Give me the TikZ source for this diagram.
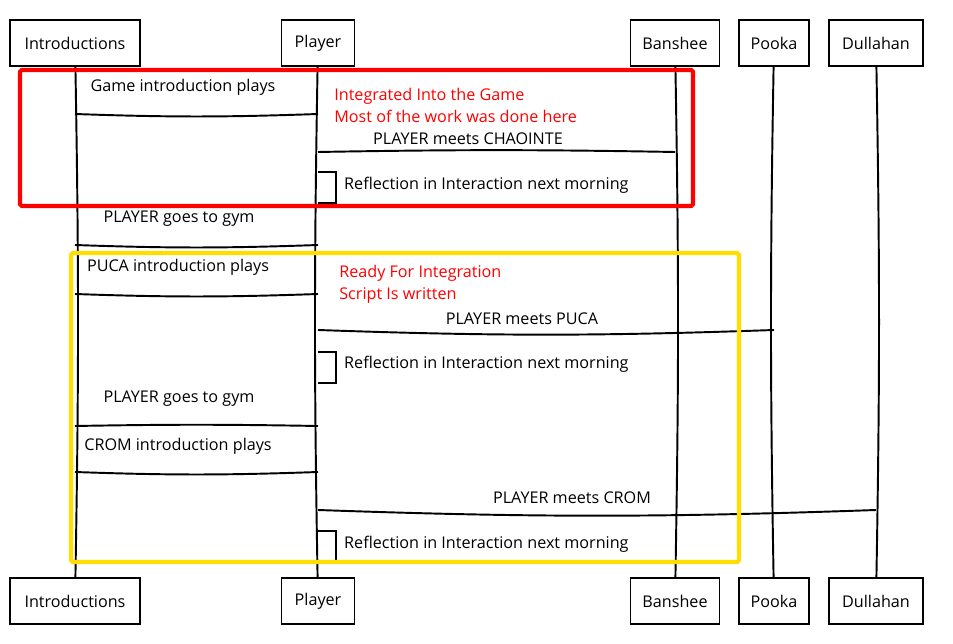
\documentclass[tikz,border=0pt]{standalone}
\usepackage{fontspec}
\setmainfont{Open Sans}
\definecolor{notered}{RGB}{255,0,0}
\definecolor{loopyellow}{RGB}{255,221,0}
\begin{document}
\begin{tikzpicture}[x=0.02cm, y=-0.02cm]
\tikzstyle{every node}=[font=\fontsize{9.2}{12.5}\selectfont]
\tikzstyle{actor}=[draw, line width=1.1pt, minimum height=0.92cm, inner sep=0pt]
\tikzstyle{msg}=[line width=1.1pt]
\tikzstyle{note}=[text=notered, align=left, anchor=west, inner sep=0pt]
\tikzstyle{frame}=[line width=2.3pt, rounded corners=1pt]
\useasboundingbox (0,0) rectangle (953,644);

% 上方的角色
\node[actor, minimum width=2.6cm]  (introT)    at (75, 43)  {Introductions};
\node[actor, minimum width=1.46cm] (playerT)   at (318, 43) {Player};
\node[actor, minimum width=1.78cm] (bansheeT)  at (675, 43) {Banshee};
\node[actor, minimum width=1.4cm]  (pookaT)    at (774, 43) {Pooka};
\node[actor, minimum width=1.88cm] (dullahanT) at (876, 43) {Dullahan};

% 下方的角色
\node[actor, minimum width=2.6cm]  (introB)    at (75, 601)  {Introductions};
\node[actor, minimum width=1.46cm] (playerB)   at (318, 601) {Player};
\node[actor, minimum width=1.78cm] (bansheeB)  at (675, 601) {Banshee};
\node[actor, minimum width=1.4cm]  (pookaB)    at (774, 601) {Pooka};
\node[actor, minimum width=1.88cm] (dullahanB) at (876, 601) {Dullahan};

% 生命线
\draw[msg] (introT) to [bend left=1] (introB);
\draw[msg] (playerT) to [bend right=1] (playerB);
\draw[msg] (bansheeT) to [bend left=1] (bansheeB);
\draw[msg] (pookaT) to [bend right=1] (pookaB);
\draw[msg] (dullahanT) to [bend left=1] (dullahanB);

% 消息所在的高度
\coordinate (m1) at (0, 114);
\coordinate (m2) at (0, 152);
\coordinate (s1) at (0, 172);
\coordinate (m3) at (0, 245);
\coordinate (m4) at (0, 294);
\coordinate (m5) at (0, 330);
\coordinate (s2) at (0, 352);
\coordinate (m6) at (0, 426);
\coordinate (m7) at (0, 472);
\coordinate (m8) at (0, 510);
\coordinate (s3) at (0, 531);

% 第一段
\draw[msg] (playerT |- m1) to [bend left=2] (introT |- m1);
\node (t1) at (183, 87) {Game introduction plays};
\node[note] (n1) at (334, 105) {Integrated Into the Game\\Most of the work was done here};
\draw[msg] (playerT |- m2) to [bend left=1] (bansheeT |- m2);
\node (t2) at (468, 139) {PLAYER meets CHAOINTE};
\draw[msg] (playerT |- s1) -| ++(18, 31) -- ++(-18, 0); % 自身消息
\node[anchor=west] (r1) at (338, 185) {Reflection in Interaction next morning};
\draw[frame, notered] (20, 70) rectangle (693, 206);

\draw[msg] (playerT |- m3) to [bend left=2] (introT |- m3);
\node (t3) at (179, 219) {PLAYER goes to gym};

% 第二段
\draw[msg] (playerT |- m4) to [bend left=2] (introT |- m4);
\node (t4) at (178, 267) {PUCA introduction plays};
\node[note] (n2) at (339, 284) {Ready For Integration\\Script Is written};
\draw[msg] (playerT |- m5) to [bend right=2] (pookaT |- m5);
\node (t5) at (522, 319) {PLAYER meets PUCA};
\draw[msg] (playerT |- s2) -| ++(18, 31) -- ++(-18, 0); % 自身消息
\node[anchor=west] (r2) at (338, 364) {Reflection in Interaction next morning};
\draw[msg] (playerT |- m6) to [bend right=1] (introT |- m6);
\node (t6) at (179, 399) {PLAYER goes to gym};
\draw[msg] (playerT |- m7) to [bend left=2] (introT |- m7);
\node (t7) at (178, 446) {CROM introduction plays};
\draw[msg] (playerT |- m8) to [bend right=2] (dullahanT |- m8);
\node (t8) at (572, 498) {PLAYER meets CROM};
\draw[msg] (playerT |- s3) -| ++(18, 31) -- ++(-18, 0); % 自身消息
\node[anchor=west] (r3) at (338, 544) {Reflection in Interaction next morning};
\draw[frame, loopyellow] (71, 253) rectangle (739, 562);

\end{tikzpicture}
\end{document}
